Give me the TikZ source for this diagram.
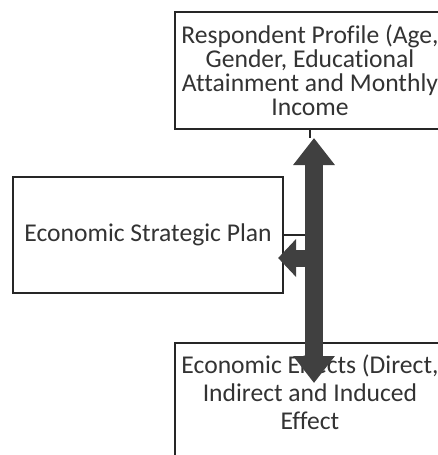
\documentclass[tikz,border=0pt]{standalone}
\usepackage{fontspec}
\setmainfont[Ligatures=NoCommon]{Carlito}
\usetikzlibrary{arrows.meta,calc}

\definecolor{boxline}{HTML}{262626}
\definecolor{arrowgray}{HTML}{404040}
\definecolor{labelgray}{HTML}{333333}

\begin{document}
\begin{tikzpicture}[x=0.5pt, y=-0.5pt, line join=miter,
    box/.style={draw=boxline, line width=1.1pt, fill=white, minimum width=135pt, minimum height=58.5pt, inner sep=0pt, align=center, text=labelgray},
    bigarrow/.style={draw=arrowgray, line width=9pt, {Triangle[width=20pt,length=13.5pt]}-{Triangle[width=20pt,length=13.5pt]}},
    sidearrow/.style={draw=arrowgray, line width=8.5pt, -{Triangle[width=18.5pt,length=9pt]}},
    stub/.style={draw=boxline, line width=0.9pt}]
    \useasboundingbox (0,0) rectangle (438,455);
    \clip (0,0) rectangle (438,455);

    % --- 1. Boxes ---
    \node[box, font=\fontsize{12.8}{12}\selectfont] (profile) at (310,70.5)
        {Respondent Profile (Age,\\Gender, Educational\\Attainment and Monthly\\Income};
    \node[box, minimum height=58pt, font=\fontsize{12.8}{14}\selectfont] (plan) at (148,235)
        {Economic Strategic Plan};
    \node[box, anchor=north, minimum height=80pt,
        label={[anchor=north, yshift=-6pt, align=center, inner sep=0pt, text=labelgray,
                font=\fontsize{12.8}{14.2}\selectfont]north:{Economic Effects (Direct,\\Indirect and Induced\\Effect}}]
        (effects) at (310,342) {};

    % --- 2. Main two-way arrow ---
    \coordinate (bartop) at (314,138);
    \coordinate (barbot) at (314,383);
    \draw[stub] (profile.south) -- (profile.south |- bartop);
    \draw[bigarrow] (bartop) -- (barbot);

    % --- 3. Branch into the plan ---
    \coordinate (barleft) at (305,237);
    \coordinate (plantip) at ($(plan.east)+(-6,23)$);
    \draw[stub] (plan.east) -- (plan.east -| barleft);
    \draw[sidearrow] (plantip -| bartop) -- (plantip);
\end{tikzpicture}
\end{document}
